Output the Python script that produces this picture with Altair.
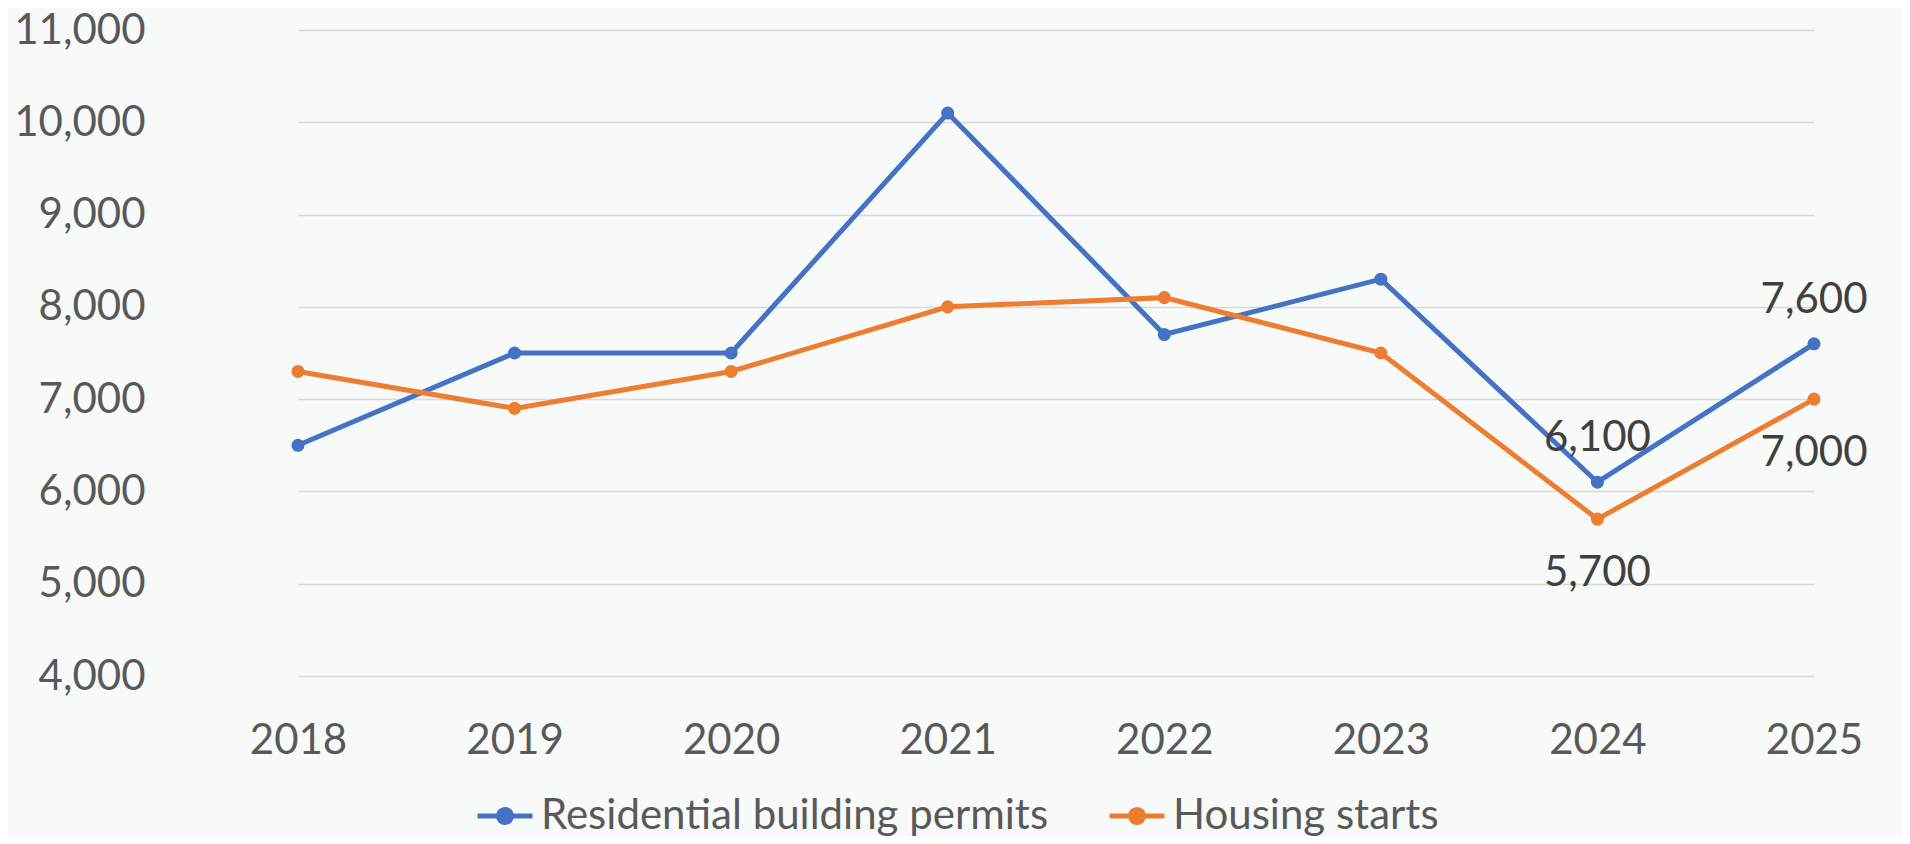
import altair as alt
import pandas as pd

years = ["2018", "2019", "2020", "2021", "2022", "2023", "2024", "2025"]
permits = [6500, 7500, 7500, 10100, 7700, 8300, 6100, 7600]
starts = [7300, 6900, 7300, 8000, 8100, 7500, 5700, 7000]
series_names = ["Residential building permits", "Housing starts"]
series_colors = ["#4472C4", "#ED7D31"]
labeled_years = ["2024", "2025"]
y_ticks = [4000, 5000, 6000, 7000, 8000, 9000, 10000, 11000]

rows = []
for yr, p, s in zip(years, permits, starts):
    rows.append({"year": yr, "series": series_names[0], "value": p})
    rows.append({"year": yr, "series": series_names[1], "value": s})
df = pd.DataFrame(rows)

FONT = "Lato"
AXIS_COLOR = "#595959"

sym_path = "M-1,0H1M0.24,0A0.24,0.24,0,1,1,-0.24,0A0.24,0.24,0,1,1,0.24,0"

color = alt.Color(
    "series:N",
    scale=alt.Scale(domain=series_names, range=series_colors),
    legend=alt.Legend(
        title=None,
        orient="none",
        legendX=284,
        legendY=756,
        direction="horizontal",
        labelFont=FONT,
        labelFontSize=42,
        labelColor=AXIS_COLOR,
        labelLimit=0,
        symbolType=sym_path,
        symbolSize=3025,
        symbolStrokeWidth=5,
        symbolOpacity=1,
        labelOffset=6,
        columnPadding=50,
    ),
)

x = alt.X(
    "year:O",
    sort=years,
    scale=alt.Scale(type="point", range=[107, 1623], padding=0),
    axis=alt.Axis(
        title=None, labelAngle=0, ticks=False, tickSize=0, domain=False,
        labelPadding=64, labelBaseline="middle", labelFontSize=42,
        labelColor=AXIS_COLOR, labelFont=FONT, grid=False,
    ),
)
y = alt.Y(
    "value:Q",
    scale=alt.Scale(domain=[4000, 11000], nice=False, zero=False),
    axis=alt.Axis(
        title=None, values=y_ticks, format=",d", ticks=False, tickSize=0,
        domain=False, labelPadding=46, grid=True, gridColor="#d9d9d9",
        gridWidth=1.5, labelFontSize=42, labelColor=AXIS_COLOR,
        labelFont=FONT,
    ),
)

base = alt.Chart(df).encode(x=x, y=y, color=color)
lines = base.mark_line(strokeWidth=5)
points = base.mark_point(filled=True, size=170, opacity=1)

text_enc = dict(x=x, y=y, text=alt.Text("value:Q", format=",d"))
lab_above = (
    alt.Chart(df)
    .transform_filter(alt.FieldOneOfPredicate(field="year", oneOf=labeled_years))
    .transform_filter(alt.datum.series == series_names[0])
    .mark_text(dy=-44, fontSize=42, font=FONT, color="#404040", baseline="middle")
    .encode(**text_enc)
)
lab_below = (
    alt.Chart(df)
    .transform_filter(alt.FieldOneOfPredicate(field="year", oneOf=labeled_years))
    .transform_filter(alt.datum.series == series_names[1])
    .mark_text(dy=54, fontSize=42, font=FONT, color="#404040", baseline="middle")
    .encode(**text_enc)
)

chart = (
    alt.layer(lines, points, lab_above, lab_below)
    .properties(
        width=1711,
        height=646,
        autosize=alt.AutoSizeParams(type="none"),
        padding={"left": 183, "top": 22, "right": 0, "bottom": 160},
        background="#f8f9f9",
    )
    .configure_view(stroke=None)
)

chart.save("out.html", embed_options={"renderer": "svg", "actions": False})
